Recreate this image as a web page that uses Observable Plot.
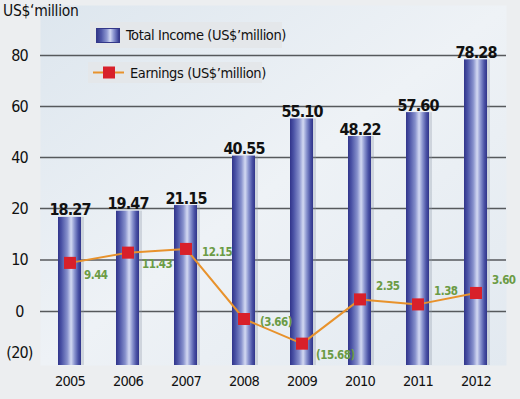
<!DOCTYPE html>
<html><head><meta charset="utf-8">
<script src="https://cdn.jsdelivr.net/npm/d3@7"></script>
<script src="https://cdn.jsdelivr.net/npm/@observablehq/plot@0.6"></script>
<style>
html,body{margin:0;padding:0;background:#eceef0;}
#wrap{position:relative;width:520px;height:399px;overflow:hidden;font-family:"Liberation Sans Narrow","DejaVu Sans Condensed","Arial Narrow",sans-serif;font-stretch:condensed;}
#title{position:absolute;left:3px;top:2px;font-size:15.5px;color:#111;white-space:nowrap;letter-spacing:-0.3px;}
.leg{position:absolute;background:#e4e7ea;font-size:14.5px;color:#111;display:flex;align-items:center;white-space:nowrap;letter-spacing:-0.4px;}
.sw1{flex-shrink:0;width:22px;height:13px;margin:0 6px 0 6px;border:1px solid #34388a;background:linear-gradient(to right,#35398a,#5058a8 20%,#8f99d2 45%,#d2d8f2 60%,#8f99d2 75%,#5058a8 92%,#35398a);}
.leg svg{flex-shrink:0;}
</style></head><body>
<div id="wrap">
<div id="chart"></div>
<div id="title">US$‘million</div>
<div class="leg" style="left:90px;top:22px;width:192px;height:26px"><div class="sw1"></div><span>Total Income (US$’million)</span></div>
<div class="leg" style="left:88px;top:62px;width:174px;height:21px"><svg width="40" height="21" style="margin-right:2px"><line x1="5" x2="36" y1="10.5" y2="10.5" stroke="#e8922c" stroke-width="2"/><rect x="15" y="4.5" width="12" height="12" fill="#d8202a"/></svg><span>Earnings (US$’million)</span></div>
</div>
<script>
const years = ["2005","2006","2007","2008","2009","2010","2011","2012"];
const totalIncome = [18.27,19.47,21.15,40.55,55.10,48.22,57.60,78.28];
const earnings = [9.44,11.43,12.15,-3.66,-15.68,2.35,1.38,3.60];
const yTicks = [-20,0,10,20,40,60,80];
const gridTicks = [0,10,20,40,60,80];
const labelBelow = ["2005","2006","2009"];
const labelLevel = ["2007","2008"];
const labelAbove = ["2010","2011","2012"];

const data = years.map((year,i) => ({year, income: totalIncome[i], earnings: earnings[i]}));
const yBase = -26.3;
// the original axis is not linear: ticks are evenly spaced, negatives compressed
const warp = d3.scaleLinear()
  .domain([yBase,-20,0,10,20,40,60,80,99.6])
  .range([0,13,54,105.5,157,208,259,310,360]);
const fmtEarn = d => d < 0 ? `(${(-d).toFixed(2)})` : d.toFixed(2);
const fmtTick = d => d < 0 ? `(${-d})` : `${d}`;
const font = '"Liberation Sans Narrow","DejaVu Sans Condensed","Arial Narrow",sans-serif';

const defs = () => {
  const s = d3.create("svg:defs");
  const g = s.append("linearGradient").attr("id","barGrad").attr("x1",0).attr("x2",1).attr("y1",0).attr("y2",0);
  [[0,"#30348a"],[0.15,"#4a52a5"],[0.4,"#8690cc"],[0.57,"#d3d9f2"],[0.72,"#8a94cf"],[0.88,"#4a52a5"],[1,"#30348a"]]
    .forEach(([o,c]) => g.append("stop").attr("offset",o).attr("stop-color",c));
  const b = s.append("linearGradient").attr("id","bgGrad").attr("x1",0).attr("x2",1).attr("y1",0).attr("y2",1);
  [[0,"#dde6ee"],[0.5,"#eef2f6"],[1,"#e2e9f0"]].forEach(([o,c]) => b.append("stop").attr("offset",o).attr("stop-color",c));
  return s.node();
};

const chart = Plot.plot({
  width: 520, height: 399,
  marginTop: 5, marginBottom: 34, marginLeft: 40, marginRight: 14,
  style: {background: "transparent", fontFamily: font, overflow: "visible"},
  x: {domain: years, paddingInner: 0.6, paddingOuter: 0.3, label: null},
  y: {transform: warp, domain: [0, 360], label: null},
  marks: [
    defs,
    Plot.frame({fill: "url(#bgGrad)"}),
    Plot.ruleY(gridTicks, {stroke: "#56595c", strokeWidth: 1.6}),
    Plot.barY(data, {x: "year", y1: yBase, y2: "income", fill: "#8a94a6", fillOpacity: 0.3, dx: 3}),
    Plot.barY(data, {x: "year", y1: yBase, y2: "income", fill: "url(#barGrad)"}),
    Plot.text(data, {x: "year", y: "income", text: d => d.income.toFixed(2), lineAnchor: "bottom", dy: -2, fontSize: 16, fontWeight: "bold", fill: "#111"}),
    Plot.line(data, {x: "year", y: "earnings", stroke: "#e8922c", strokeWidth: 2}),
    Plot.dot(data, {x: "year", y: "earnings", symbol: "square", r: 6.8, fill: "#d8202a", stroke: "none"}),
    Plot.text(data.filter(d => labelBelow.includes(d.year)), {x: "year", y: "earnings", text: d => fmtEarn(d.earnings), textAnchor: "start", dx: 14, dy: 12, fontSize: 11.5, fontWeight: "bold", fill: "#6b9b45"}),
    Plot.text(data.filter(d => labelLevel.includes(d.year)), {x: "year", y: "earnings", text: d => fmtEarn(d.earnings), textAnchor: "start", dx: 16, dy: 3, fontSize: 11.5, fontWeight: "bold", fill: "#6b9b45"}),
    Plot.text(data.filter(d => labelAbove.includes(d.year)), {x: "year", y: "earnings", text: d => fmtEarn(d.earnings), textAnchor: "start", dx: 16, dy: -13, fontSize: 11.5, fontWeight: "bold", fill: "#6b9b45"}),
    Plot.axisY(yTicks, {tickSize: 0, tickPadding: 0, tickFormat: fmtTick, textAnchor: "middle", dx: -21, fontSize: 16, fill: "#111", label: null}),
    Plot.axisX({tickSize: 0, tickPadding: 10, fontSize: 14.5, fill: "#111", label: null})
  ]
});
// condensed lettering like the original
const textGroups = d3.select(chart).selectAll('g[aria-label="text"]').nodes();
d3.select(textGroups[0]).style("letter-spacing", "-0.9px");
textGroups.slice(1).forEach(g => d3.select(g).style("letter-spacing", "-0.5px"));
d3.select(chart).selectAll('g[aria-label="y-axis tick label"], g[aria-label="x-axis tick label"]').style("letter-spacing", "-0.8px");
document.getElementById("chart").appendChild(chart);
</script>
</body></html>
